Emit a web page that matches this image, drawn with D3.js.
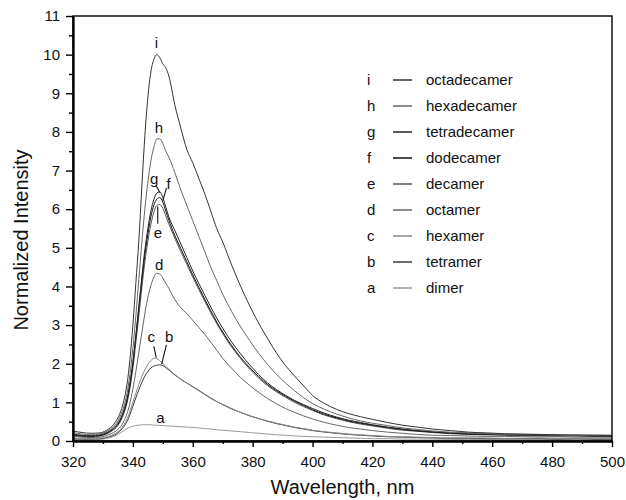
<!DOCTYPE html>
<html>
<head>
<meta charset="utf-8">
<script src="https://cdn.jsdelivr.net/npm/d3@7"></script>
<style>
  html, body { margin: 0; padding: 0; background: #fff; }
  svg { display: block; font-family: "Liberation Sans", Arial, sans-serif; }
</style>
</head>
<body>
<svg id="chart" width="626" height="500"></svg>
<script>
// Emission spectra of oligomers, normalized intensity vs wavelength (nm)
const wavelengths = [320,323,326,329,331,333,335,336,337,338,339,340,341,342,343,344,345,346,347,348,349,350,351,352,354,356,358,360,362,364,366,368,370,373,376,379,382,385,388,391,394,397,400,404,408,412,416,420,425,430,435,440,446,452,458,464,470,476,482,488,494,500];

const octadecamer  = [0.26,0.22,0.20,0.21,0.27,0.38,0.60,0.78,1.05,1.45,2.10,3.00,4.10,5.20,6.60,7.90,8.90,9.55,9.88,10.00,9.92,9.76,9.66,9.45,8.70,8.10,7.55,7.20,6.80,6.40,5.95,5.50,5.15,4.55,4.00,3.50,3.05,2.65,2.27,1.95,1.68,1.43,1.18,0.97,0.82,0.71,0.63,0.56,0.48,0.41,0.36,0.31,0.27,0.23,0.21,0.19,0.18,0.17,0.16,0.16,0.15,0.15];
const hexadecamer  = [0.22,0.18,0.16,0.18,0.24,0.34,0.52,0.68,0.90,1.22,1.72,2.40,3.25,4.20,5.15,6.00,6.70,7.25,7.60,7.82,7.82,7.70,7.50,7.35,6.95,6.50,6.10,5.70,5.30,4.90,4.50,4.15,3.80,3.35,2.95,2.60,2.27,1.98,1.72,1.50,1.30,1.12,0.97,0.82,0.70,0.60,0.52,0.46,0.40,0.34,0.30,0.26,0.23,0.21,0.19,0.17,0.16,0.16,0.15,0.14,0.15,0.14];
const tetradecamer = [0.18,0.15,0.14,0.16,0.21,0.30,0.46,0.60,0.80,1.08,1.50,2.05,2.75,3.50,4.25,4.95,5.50,5.95,6.25,6.42,6.45,6.30,6.05,5.80,5.45,5.10,4.75,4.40,4.08,3.77,3.47,3.18,2.92,2.56,2.25,1.97,1.72,1.50,1.33,1.18,1.05,0.94,0.84,0.72,0.62,0.54,0.48,0.42,0.36,0.31,0.27,0.24,0.21,0.19,0.18,0.17,0.16,0.15,0.15,0.14,0.14,0.13];
const dodecamer    = [0.16,0.13,0.12,0.14,0.19,0.28,0.43,0.57,0.76,1.03,1.45,2.00,2.70,3.42,4.15,4.82,5.35,5.80,6.10,6.26,6.30,6.18,5.95,5.72,5.32,4.98,4.64,4.30,3.98,3.67,3.37,3.08,2.82,2.47,2.16,1.90,1.67,1.46,1.30,1.16,1.03,0.92,0.81,0.69,0.60,0.52,0.46,0.41,0.35,0.30,0.26,0.23,0.20,0.18,0.17,0.16,0.15,0.15,0.14,0.14,0.13,0.13];
const decamer      = [0.14,0.12,0.11,0.13,0.18,0.26,0.40,0.53,0.71,0.97,1.36,1.88,2.55,3.25,3.98,4.63,5.17,5.60,5.92,6.10,6.12,6.02,5.82,5.62,5.25,4.90,4.57,4.24,3.92,3.62,3.32,3.04,2.78,2.43,2.13,1.86,1.63,1.43,1.27,1.13,1.00,0.89,0.79,0.67,0.58,0.50,0.44,0.39,0.33,0.28,0.25,0.22,0.19,0.17,0.16,0.15,0.14,0.14,0.13,0.13,0.12,0.12];
const octamer      = [0.12,0.10,0.09,0.10,0.14,0.20,0.30,0.38,0.52,0.70,0.98,1.35,1.80,2.30,2.80,3.30,3.72,4.02,4.24,4.34,4.32,4.22,4.08,3.95,3.66,3.45,3.30,3.12,2.94,2.76,2.56,2.35,2.14,1.88,1.64,1.44,1.26,1.10,0.96,0.84,0.74,0.65,0.57,0.48,0.41,0.35,0.31,0.27,0.23,0.20,0.17,0.15,0.14,0.13,0.12,0.12,0.11,0.11,0.11,0.10,0.10,0.10];
const hexamer      = [0.08,0.07,0.06,0.07,0.10,0.15,0.24,0.31,0.42,0.56,0.76,1.00,1.24,1.47,1.67,1.84,1.98,2.08,2.14,2.13,2.08,2.00,1.93,1.86,1.72,1.60,1.50,1.40,1.30,1.20,1.10,1.02,0.95,0.84,0.74,0.66,0.58,0.52,0.46,0.41,0.36,0.32,0.28,0.24,0.21,0.18,0.16,0.14,0.12,0.11,0.10,0.09,0.08,0.08,0.08,0.07,0.07,0.08,0.07,0.07,0.07,0.07];
const tetramer     = [0.06,0.05,0.05,0.06,0.09,0.13,0.21,0.28,0.37,0.50,0.68,0.90,1.12,1.33,1.52,1.68,1.80,1.89,1.94,1.96,1.97,1.95,1.90,1.84,1.71,1.60,1.50,1.41,1.31,1.21,1.11,1.02,0.94,0.83,0.74,0.65,0.58,0.51,0.45,0.40,0.35,0.31,0.27,0.23,0.20,0.17,0.15,0.13,0.11,0.10,0.09,0.08,0.07,0.07,0.06,0.06,0.06,0.06,0.05,0.06,0.05,0.05];
const dimer        = [0.04,0.03,0.03,0.04,0.06,0.10,0.17,0.22,0.27,0.32,0.36,0.38,0.40,0.41,0.42,0.42,0.42,0.42,0.41,0.41,0.40,0.40,0.39,0.39,0.38,0.37,0.36,0.35,0.34,0.32,0.31,0.29,0.28,0.26,0.24,0.22,0.20,0.18,0.16,0.15,0.13,0.12,0.11,0.10,0.09,0.08,0.07,0.06,0.06,0.05,0.05,0.05,0.04,0.04,0.04,0.04,0.04,0.04,0.04,0.04,0.04,0.04];

// legend order (top to bottom) and matching letters / names
const letters = ["i","h","g","f","e","d","c","b","a"];
const names   = ["octadecamer","hexadecamer","tetradecamer","dodecamer","decamer","octamer","hexamer","tetramer","dimer"];
const seriesValues = [octadecamer, hexadecamer, tetradecamer, dodecamer, decamer, octamer, hexamer, tetramer, dimer];
const lineColors = ["#333333","#666666","#222222","#111111","#555555","#666666","#888888","#3a3a3a","#999999"];

// axis tick values
const xMajorTicks = [320,340,360,380,400,420,440,460,480,500];
const xMinorTicks = [330,350,370,390,410,430,450,470,490];
const yMajorTicks = [0,1,2,3,4,5,6,7,8,9,10,11];
const yMinorTicks = [0.5,1.5,2.5,3.5,4.5,5.5,6.5,7.5,8.5,9.5,10.5];

// curve labels: letter, anchor wavelength, anchor intensity
const labelLetters = ["i","h","g","f","e","d","c","b","a"];
const labelWl      = [347.9,348.7,347.1,351.9,348.4,348.8,346.1,352.1,349.2];
const labelInt     = [10.30,8.12,6.80,6.66,5.40,4.55,2.69,2.69,0.60];
// leader lines: [wl1, int1, wl2, int2]
const leaderLines = [
  [347.7,6.62,349.0,6.43],
  [351.2,6.55,350.0,6.22],
  [348.3,6.07,348.3,5.62],
  [347.0,2.45,347.8,2.16],
  [351.2,2.49,349.6,1.99]
];

const svg = d3.select("#chart");
const W = 626, H = 500;
const margin = {left: 73, right: 14, top: 16, bottom: 59};

svg.append("rect").attr("width", W).attr("height", H).attr("fill", "#fff");

const x = d3.scaleLinear().domain([320, 500]).range([margin.left, W - margin.right]);
const y = d3.scaleLinear().domain([0, 11]).range([H - margin.bottom, margin.top]);

const font = "\"Liberation Sans\", Arial, sans-serif";

// spectra
const line = d3.line()
  .x(d => x(d[0]))
  .y(d => y(d[1]))
  .curve(d3.curveMonotoneX);

const plot = svg.append("g");
// draw from the smallest up so the tallest sit on top
for (let k = seriesValues.length - 1; k >= 0; k--) {
  const pts = wavelengths.map((w, j) => [w, seriesValues[k][j]]);
  plot.append("path")
    .datum(pts)
    .attr("fill", "none")
    .attr("stroke", lineColors[k])
    .attr("stroke-width", 1)
    .attr("stroke-linejoin", "round")
    .attr("d", line);
}

// frame (top and right)
svg.append("rect")
  .attr("x", x(320)).attr("y", y(11))
  .attr("width", x(500) - x(320)).attr("height", y(0) - y(11))
  .attr("fill", "none").attr("stroke", "#000").attr("stroke-width", 1.4);

// axes
const xAxis = svg.append("g")
  .attr("transform", `translate(0,${y(0)})`)
  .call(d3.axisBottom(x).tickValues(xMajorTicks).tickSize(6).tickSizeOuter(0).tickPadding(9).tickFormat(d3.format("d")));
const xMinor = svg.append("g")
  .attr("transform", `translate(0,${y(0)})`)
  .call(d3.axisBottom(x).tickValues(xMinorTicks).tickSize(3).tickSizeOuter(0).tickFormat(""));
const yAxis = svg.append("g")
  .attr("transform", `translate(${x(320)},0)`)
  .call(d3.axisLeft(y).tickValues(yMajorTicks).tickSize(7).tickSizeOuter(0).tickPadding(6).tickFormat(d3.format("d")));
const yMinor = svg.append("g")
  .attr("transform", `translate(${x(320)},0)`)
  .call(d3.axisLeft(y).tickValues(yMinorTicks).tickSize(4).tickSizeOuter(0).tickFormat(""));

[xAxis, xMinor, yAxis, yMinor].forEach(g => {
  g.select(".domain").attr("stroke", "#000").attr("stroke-width", 1.8);
  g.selectAll(".tick line").attr("stroke", "#000").attr("stroke-width", 1.4);
  g.selectAll("text").attr("font-family", font).attr("font-size", 15).attr("fill", "#111");
});

// axis titles
svg.append("text")
  .attr("x", (x(320) + x(500)) / 2)
  .attr("y", 494)
  .attr("text-anchor", "middle")
  .attr("font-family", font).attr("font-size", 20).attr("fill", "#111")
  .text("Wavelength, nm");

svg.append("text")
  .attr("transform", `translate(28,240) rotate(-90)`)
  .attr("text-anchor", "middle")
  .attr("font-family", font).attr("font-size", 20).attr("fill", "#111")
  .text("Normalized Intensity");

// curve labels
labelLetters.forEach((t, k) => {
  svg.append("text")
    .attr("x", x(labelWl[k]))
    .attr("y", y(labelInt[k]))
    .attr("dy", "0.35em")
    .attr("text-anchor", "middle")
    .attr("font-family", font).attr("font-size", 15).attr("fill", "#111")
    .text(t);
});
leaderLines.forEach(l => {
  svg.append("line")
    .attr("x1", x(l[0])).attr("y1", y(l[1]))
    .attr("x2", x(l[2])).attr("y2", y(l[3]))
    .attr("stroke", "#111").attr("stroke-width", 1.1);
});

// legend
const legend = svg.append("g");
const legTop = 80, legStep = 26;
letters.forEach((t, k) => {
  const cy = legTop + k * legStep;
  legend.append("text")
    .attr("x", 367).attr("y", cy).attr("dy", "0.35em")
    .attr("font-family", font).attr("font-size", 15).attr("fill", "#111")
    .text(t);
  legend.append("line")
    .attr("x1", 393).attr("x2", 412).attr("y1", cy).attr("y2", cy)
    .attr("stroke", lineColors[k]).attr("stroke-width", 1.5);
  legend.append("text")
    .attr("x", 426).attr("y", cy).attr("dy", "0.35em")
    .attr("font-family", font).attr("font-size", 15).attr("fill", "#111")
    .text(names[k]);
});
</script>
</body>
</html>
